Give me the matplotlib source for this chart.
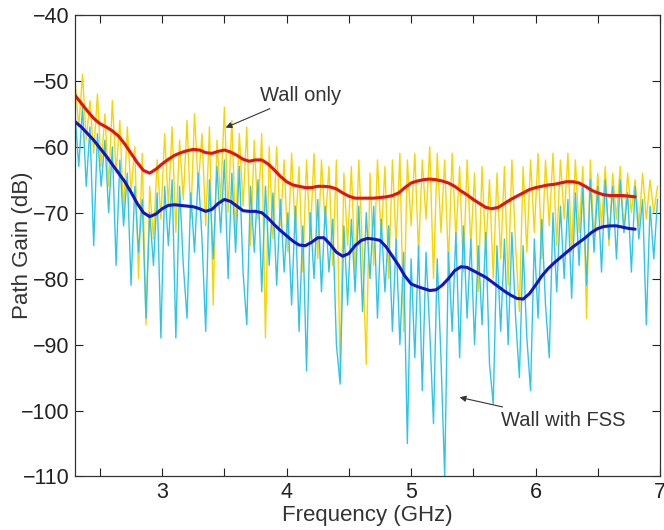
import numpy as np
import matplotlib
matplotlib.use("Agg")
import matplotlib.pyplot as plt

plt.rcParams['font.family'] = ['Liberation Sans', 'DejaVu Sans']

# Noisy measured traces (dB), uniform frequency grid 2.30 .. 6.98 GHz
wall_only_raw = [
    -50, -57, -49, -59, -53, -61, -52, -63, -55, -66,
    -53, -64, -56, -70, -57, -67, -60, -80, -61, -87,
    -66, -74, -62, -71, -58, -69, -57, -73, -59, -68,
    -56, -71, -55, -66, -58, -72, -57, -84, -59, -68,
    -54, -70, -56, -73, -58, -69, -57, -75, -59, -71,
    -58, -89, -60, -74, -60, -72, -62, -76, -61, -73,
    -63, -79, -62, -74, -61, -77, -62, -72, -63, -78,
    -62, -94, -64, -75, -63, -79, -62, -76, -93, -64,
    -78, -62, -74, -63, -80, -62, -75, -61, -88, -62,
    -72, -61, -76, -62, -71, -60, -80, -61, -73, -62,
    -78, -61, -74, -63, -79, -62, -75, -64, -82, -63,
    -76, -65, -80, -64, -77, -63, -81, -62, -75, -85,
    -63, -76, -62, -73, -61, -77, -62, -72, -61, -75,
    -62, -71, -61, -76, -62, -73, -63, -86, -62, -74,
    -64, -72, -63, -75, -64, -71, -63, -73, -64, -70,
    -65, -72, -64, -71, -65, -70, -66,
]
wall_fss_raw = [
    -55, -63, -54, -66, -57, -75, -58, -66, -59, -70,
    -60, -78, -62, -72, -64, -81, -66, -76, -68, -86,
    -70, -78, -67, -89, -66, -75, -65, -89, -66, -78,
    -86, -67, -76, -64, -74, -88, -65, -77, -63, -73,
    -62, -80, -64, -76, -63, -79, -87, -66, -76, -65,
    -82, -66, -78, -67, -81, -68, -79, -70, -84, -69,
    -88, -72, -94, -70, -80, -68, -82, -69, -79, -71,
    -90, -96, -72, -84, -71, -82, -69, -85, -70, -80,
    -69, -86, -71, -82, -72, -88, -74, -90, -76, -105,
    -77, -92, -75, -97, -76, -88, -102, -77, -92, -110,
    -76, -88, -73, -92, -72, -86, -74, -90, -75, -87,
    -73, -93, -99, -75, -88, -74, -90, -73, -86, -95,
    -75, -89, -97, -74, -86, -71, -84, -92, -70, -82,
    -69, -80, -68, -83, -67, -78, -66, -81, -65, -76,
    -66, -79, -65, -74, -66, -77, -65, -73, -67, -79,
    -66, -74, -68, -87, -69, -77, -68,
]
raw_f_start, raw_f_end = 2.30, 6.98

# Smoothed traces (dB), 2.30 .. 6.80 GHz, step 0.05
wall_only_smooth = [
    -52.2, -53.4, -54.6, -55.7, -56.5, -57.0, -57.6, -58.4, -59.6, -61.0,
    -62.4, -63.6, -64.0, -63.4, -62.6, -61.9, -61.3, -60.9, -60.6, -60.4,
    -60.5, -60.9, -61.0, -60.7, -60.5, -60.8, -61.3, -61.9, -62.2, -62.0,
    -62.0, -62.6, -63.5, -64.5, -65.3, -65.8, -66.0, -66.2, -66.2, -66.0,
    -66.0, -66.1, -66.4, -67.0, -67.5, -67.8, -67.8, -67.8, -67.8, -67.7,
    -67.6, -67.4, -67.0, -66.2, -65.5, -65.2, -65.0, -64.9, -65.0, -65.2,
    -65.5, -66.0, -66.7, -67.3, -68.0, -68.6, -69.2, -69.4, -69.2, -68.6,
    -68.0, -67.5, -67.0, -66.5, -66.2, -66.0, -65.8, -65.7, -65.5, -65.3,
    -65.3, -65.5, -66.0, -66.6, -67.0, -67.3, -67.4, -67.4, -67.4, -67.5,
    -67.6,
]
wall_fss_smooth = [
    -56.2, -57.0, -58.0, -59.0, -60.2, -61.4, -62.7, -64.0, -65.3, -66.9,
    -68.6, -70.0, -70.6, -70.2, -69.4, -68.9, -68.8, -68.9, -69.0, -69.1,
    -69.4, -69.8, -69.5, -68.6, -68.0, -68.3, -69.0, -69.7, -69.8, -69.8,
    -70.0, -70.8, -71.8, -72.7, -73.5, -74.3, -74.9, -75.0, -74.5, -73.8,
    -73.8, -74.8, -76.0, -76.6, -76.2, -75.0, -74.2, -73.9, -74.0, -74.2,
    -75.2, -76.6, -78.0, -79.6, -80.8, -81.2, -81.5, -81.8, -81.7, -81.0,
    -80.0, -78.8, -78.2, -78.3, -78.8, -79.3, -79.8, -80.5, -81.2, -81.9,
    -82.5, -83.0, -83.1, -82.3, -81.0, -79.6, -78.5, -77.6, -76.8, -76.0,
    -75.2, -74.5, -73.8, -73.0, -72.4, -72.1, -72.0, -72.0, -72.2, -72.4,
    -72.5,
]
smooth_f_start, smooth_f_end = 2.30, 6.80

x_ticks = [3, 4, 5, 6, 7]
x_minor = [2.5, 3.5, 4.5, 5.5, 6.5]
y_ticks = [-110, -100, -90, -80, -70, -60, -50, -40]

fig = plt.figure(figsize=(6.64, 5.30), dpi=100)
ax = fig.add_axes([0.113, 0.101, 0.881, 0.871])

f_raw = np.linspace(raw_f_start, raw_f_end, len(wall_only_raw))
f_smooth = np.linspace(smooth_f_start, smooth_f_end, len(wall_only_smooth))
ax.plot(f_raw, wall_only_raw, color='#F7D600', lw=1.0)
ax.plot(f_raw, wall_fss_raw, color='#2EC6E8', lw=1.0)
ax.plot(f_smooth, wall_only_smooth, color='#E3120B', lw=2.2,
        solid_joinstyle='round', solid_capstyle='round')
ax.plot(f_smooth, wall_fss_smooth, color='#1414C0', lw=2.2,
        solid_joinstyle='round', solid_capstyle='round')

ax.set_xlim(2.3, 7.0)
ax.set_ylim(-110, -40)
ax.set_xticks(x_ticks)
ax.set_xticks(x_minor, minor=True)
ax.set_yticks(y_ticks)
ax.tick_params(which='both', direction='in', top=True, right=True,
               length=6, width=0.8, labelsize=15.5, colors='#222222', pad=4)
for s in ax.spines.values():
    s.set_color('#333333')
    s.set_linewidth(0.9)

ax.set_xlabel('Frequency (GHz)', fontsize=16, color='#333333', va='top')
ax.xaxis.set_label_coords(0.5, -0.062)
ax.set_ylabel('Path Gain (dB)', fontsize=16, color='#333333')
ax.yaxis.set_label_coords(-0.072, 0.5)

ax.annotate('Wall only', xy=(3.51, -57.1), xytext=(3.79, -52.2),
            fontsize=14.5, color='#333333', va='center', ha='left',
            arrowprops=dict(arrowstyle='-|>', color='#333333', lw=0.8,
                            mutation_scale=9, shrinkA=2, shrinkB=0))
ax.annotate('Wall with FSS', xy=(5.39, -98.0), xytext=(5.72, -101.5),
            fontsize=14.5, color='#333333', va='center', ha='left',
            arrowprops=dict(arrowstyle='-|>', color='#333333', lw=0.8,
                            mutation_scale=9, shrinkA=4, shrinkB=0))

fig.savefig('out.png', dpi=100)
